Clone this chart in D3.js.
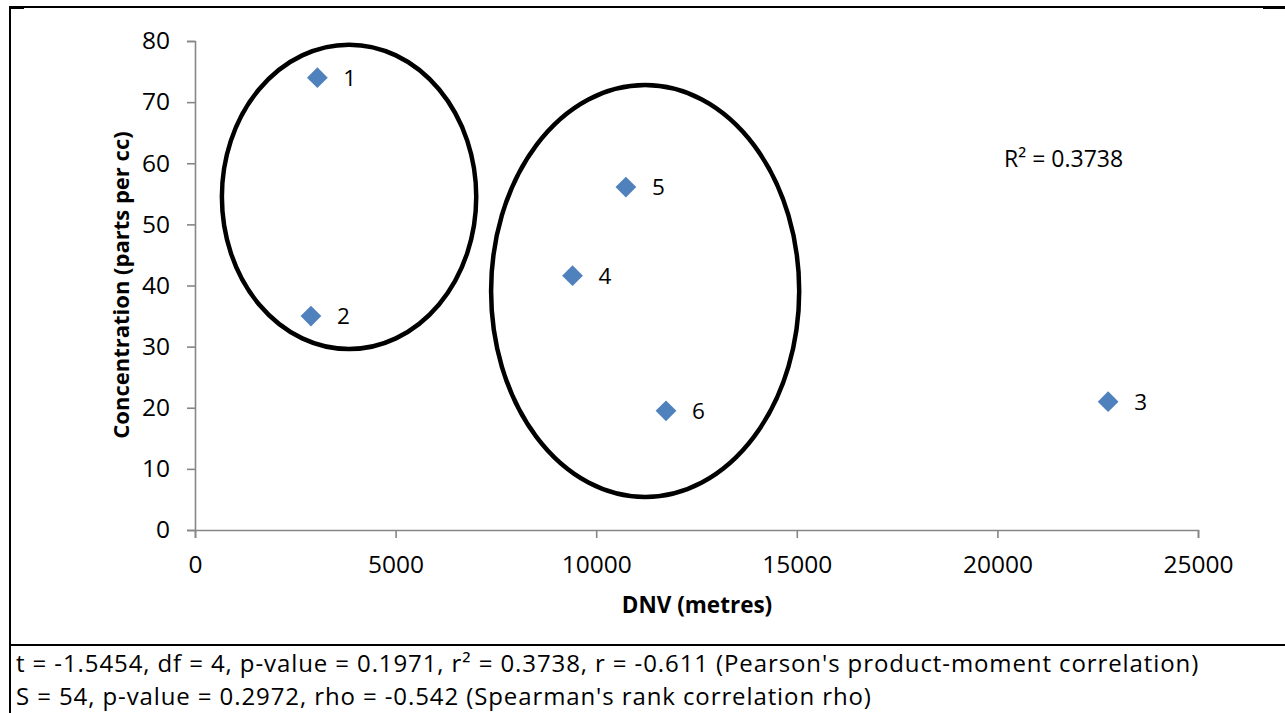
<!DOCTYPE html>
<html>
<head>
<meta charset="utf-8">
<script src="https://cdn.jsdelivr.net/npm/d3@7"></script>
<style>
  html, body { margin: 0; padding: 0; background: #fff; }
  svg { display: block; font-family: "Open Sans", "Noto Sans", sans-serif; }
</style>
</head>
<body>
<svg id="chart" width="1285" height="713"></svg>
<script>
// site data
const siteLabels = ["1", "2", "3", "4", "5", "6"];
const dnv = [3050, 2890, 22760, 9410, 10740, 11740];
const concentration = [74.0, 35.0, 21.0, 41.6, 56.1, 19.5];

const xTicks = [0, 5000, 10000, 15000, 20000, 25000];
const yTicks = [0, 10, 20, 30, 40, 50, 60, 70, 80];

// hand drawn groupings, in data units: [cx, cy, rx, ry]
const groupEllipses = [
  [3840, 54.5, 3170, 24.9],
  [11220, 39.1, 3840, 33.7]
];

const rSquaredText = "R² = 0.3738";
const captionLines = [
  "t = -1.5454, df = 4, p-value = 0.1971, r² = 0.3738, r = -0.611 (Pearson's product-moment correlation)",
  "S = 54, p-value = 0.2972, rho = -0.542 (Spearman's rank correlation rho)"
];

const svg = d3.select("#chart");
const axisColor = "#868686";
const pointColor = "#4F81BD";

const x = d3.scaleLinear().domain([0, 25000]).range([195, 1198]);
const y = d3.scaleLinear().domain([0, 80]).range([530, 41]);

// frame (chart box + caption row)
const frame = svg.append("g").attr("stroke", "#000").attr("stroke-width", 2).attr("fill", "none");
frame.append("path").attr("d", "M10,713 V7 H1285");
frame.append("path").attr("d", "M10,645 H1285");
svg.append("rect").attr("x", 10).attr("y", 6).attr("width", 14).attr("height", 3).attr("fill", "#000");
svg.append("rect").attr("x", 1263).attr("y", 6).attr("width", 22).attr("height", 3).attr("fill", "#000");

// axes
const yAxis = svg.append("g")
  .attr("transform", `translate(${x(0)},0)`)
  .call(d3.axisLeft(y).tickValues(yTicks).tickSize(8).tickPadding(17));
const xAxis = svg.append("g")
  .attr("transform", `translate(0,${y(0)})`)
  .call(d3.axisBottom(x).tickValues(xTicks).tickSize(8).tickPadding(18).tickFormat(d3.format("d")));

[xAxis, yAxis].forEach(a => {
  a.select(".domain").attr("stroke", axisColor).attr("stroke-width", 1.6);
  a.selectAll(".tick line").attr("stroke", axisColor).attr("stroke-width", 1.6);
  a.selectAll(".tick text").attr("fill", "#000").attr("font-size", 24.5)
    .attr("font-family", "'Open Sans', sans-serif");
});

// axis titles
svg.append("text")
  .attr("x", 697).attr("y", 613)
  .attr("text-anchor", "middle")
  .attr("font-size", 22.5).attr("font-weight", "bold")
  .text("DNV (metres)");

svg.append("text")
  .attr("transform", "translate(129,285) rotate(-90)")
  .attr("text-anchor", "middle")
  .attr("font-size", 22).attr("font-weight", "bold")
  .text("Concentration (parts per cc)");

// ellipses
svg.append("g").selectAll("ellipse")
  .data(groupEllipses)
  .enter()
  .append("ellipse")
  .attr("cx", d => x(d[0]))
  .attr("cy", d => y(d[1]))
  .attr("rx", d => x(d[2]) - x(0))
  .attr("ry", d => y(0) - y(d[3]))
  .attr("fill", "none")
  .attr("stroke", "#000")
  .attr("stroke-width", 4.5);

// points
const diamond = d3.symbol().type(d3.symbolSquare).size(215);
const pts = svg.append("g").selectAll("g")
  .data(dnv.map((d, i) => ({x: d, y: concentration[i], label: siteLabels[i]})))
  .enter()
  .append("g")
  .attr("transform", d => `translate(${x(d.x)},${y(d.y)})`);

pts.append("path")
  .attr("d", diamond)
  .attr("transform", "rotate(45)")
  .attr("fill", pointColor);

pts.append("text")
  .attr("x", 26).attr("y", 8)
  .attr("font-size", 22.5)
  .text(d => d.label);

// trendline R²
svg.append("text")
  .attr("x", 1004).attr("y", 167)
  .attr("font-size", 23)
  .text(rSquaredText);

// caption rows, one text block
svg.append("text")
  .attr("y", 672)
  .attr("font-size", 24)
  .attr("letter-spacing", 0.9)
  .selectAll("tspan")
  .data(captionLines)
  .enter()
  .append("tspan")
  .attr("x", 16)
  .attr("dy", (d, i) => i ? 33 : 0)
  .text(d => d);
</script>
</body>
</html>
